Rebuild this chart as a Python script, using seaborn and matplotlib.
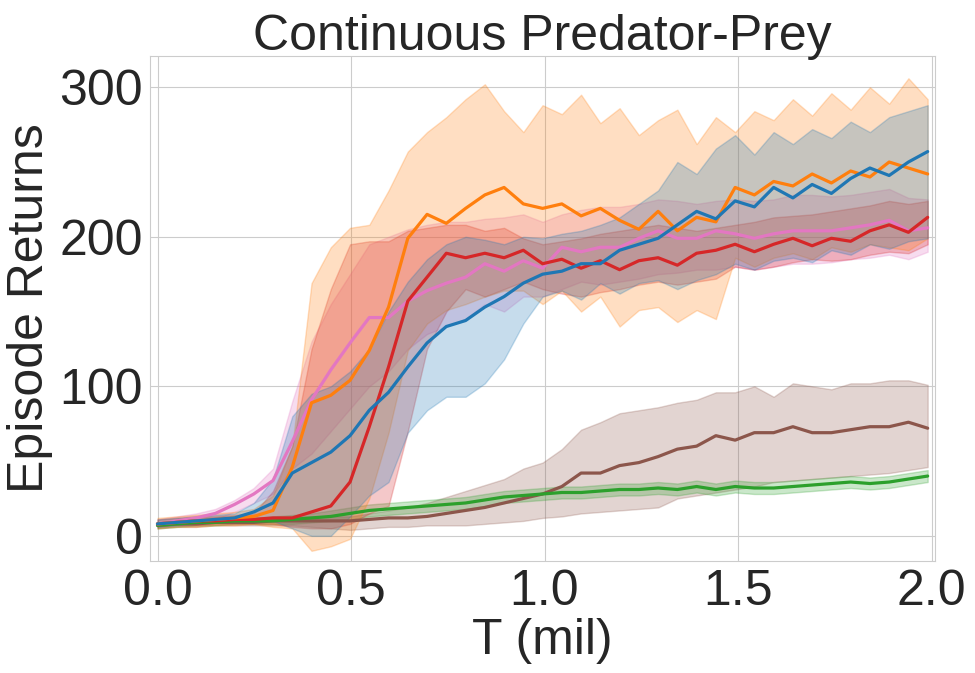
# %% Imports

import matplotlib.pyplot as plt
import numpy as np
import pandas as pd
import seaborn as sns

# %% Data (T in millions of steps)

T_MIL = np.linspace(0, 1.99, 41)

BLUE_MEAN = [8, 9, 10, 11, 12, 16, 22, 42, 49, 56, 67, 84, 96, 113, 129, 140, 144, 153, 160, 169,
             175, 177, 182, 182, 191, 195, 199, 208, 217, 212, 224, 220, 233, 226, 235, 229, 239, 246, 241, 250, 257]
BLUE_LOW = [6, 7, 8, 9, 9, 11, 10, 5, 0, 0, 13, 27, 36, 69, 84, 93, 93, 102, 118, 142,
            160, 164, 158, 169, 162, 169, 171, 165, 171, 175, 182, 178, 184, 186, 183, 191, 188, 195, 192, 197, 199]
BLUE_HIGH = [11, 12, 13, 14, 15, 22, 38, 80, 95, 100, 110, 125, 150, 170, 185, 195, 200, 198, 195, 200,
             199, 202, 204, 208, 213, 222, 231, 250, 242, 259, 268, 255, 270, 262, 272, 266, 277, 270, 280, 284, 288]

ORANGE_MEAN = [8, 9, 10, 11, 12, 13, 17, 46, 89, 94, 104, 124, 153, 199, 215, 209, 219, 228, 233, 222,
               219, 222, 214, 219, 211, 205, 217, 204, 213, 210, 233, 228, 237, 234, 242, 236, 244, 240, 250, 246, 242]
ORANGE_LOW = [5, 6, 6, 7, 7, 8, 6, 5, -10, -7, -2, 25, 69, 124, 142, 151, 155, 160, 164, 164,
              155, 164, 150, 160, 140, 151, 153, 143, 151, 145, 186, 180, 186, 189, 185, 193, 190, 195, 193, 191, 199]
ORANGE_HIGH = [12, 13, 14, 15, 16, 18, 27, 60, 169, 193, 206, 208, 231, 257, 270, 280, 292, 302, 284, 270,
               288, 282, 295, 276, 286, 268, 278, 285, 262, 280, 270, 284, 278, 292, 281, 296, 285, 300, 289, 306, 292]

GREEN_MEAN = [7, 8, 9, 9, 10, 10, 10, 11, 12, 13, 15, 17, 18, 19, 20, 21, 22, 24, 26, 27,
              28, 29, 29, 30, 31, 31, 32, 31, 33, 31, 33, 32, 32, 33, 34, 35, 36, 35, 36, 38, 40]
GREEN_LOW = [5, 6, 7, 7, 8, 8, 8, 8, 9, 10, 11, 13, 14, 15, 16, 17, 18, 20, 22, 23,
             24, 25, 25, 26, 27, 27, 28, 27, 29, 27, 29, 28, 28, 29, 30, 31, 32, 31, 32, 34, 36]
GREEN_HIGH = [9, 10, 11, 11, 12, 12, 13, 14, 15, 17, 19, 21, 22, 23, 24, 25, 26, 28, 30, 31,
              32, 33, 33, 34, 35, 35, 36, 35, 37, 35, 37, 36, 36, 37, 38, 39, 40, 39, 40, 42, 44]

RED_MEAN = [8, 9, 10, 10, 11, 11, 12, 12, 16, 20, 36, 73, 113, 157, 173, 189, 186, 189, 186, 191,
            182, 185, 179, 184, 178, 184, 186, 181, 189, 191, 195, 190, 195, 199, 194, 199, 197, 204, 208, 203, 213]
RED_LOW = [6, 7, 7, 8, 8, 8, 8, 6, 5, 5, 8, 15, 20, 70, 125, 150, 165, 160, 165, 170,
           165, 162, 160, 163, 165, 168, 170, 168, 170, 172, 180, 178, 180, 183, 185, 184, 185, 188, 190, 189, 195]
RED_HIGH = [11, 12, 13, 13, 14, 15, 30, 60, 125, 165, 195, 197, 197, 204, 206, 208, 208, 204, 206, 199,
            195, 197, 199, 202, 204, 206, 208, 206, 204, 206, 208, 210, 213, 214, 215, 217, 219, 221, 224, 222, 224]

BROWN_MEAN = [7, 8, 8, 9, 9, 9, 10, 10, 10, 10, 10, 11, 12, 12, 13, 15, 17, 19, 22, 25,
              28, 33, 42, 42, 47, 49, 53, 58, 60, 67, 64, 69, 69, 73, 69, 69, 71, 73, 73, 76, 72]
BROWN_LOW = [5, 6, 6, 7, 7, 7, 7, 7, 6, 5, 4, 5, 6, 6, 7, 7, 7, 8, 9, 10,
             12, 13, 15, 16, 17, 18, 19, 25, 27, 29, 31, 33, 36, 37, 38, 39, 40, 41, 42, 44, 46]
BROWN_HIGH = [9, 10, 10, 11, 11, 12, 12, 13, 13, 13, 13, 15, 17, 19, 22, 26, 30, 34, 38, 45,
              49, 58, 71, 76, 82, 84, 86, 89, 91, 96, 96, 100, 93, 102, 100, 98, 102, 102, 104, 104, 101]

PINK_MEAN = [8, 10, 12, 15, 21, 28, 37, 63, 91, 111, 129, 146, 146, 157, 164, 169, 173, 182, 177, 184,
             179, 193, 190, 193, 193, 199, 204, 199, 199, 204, 202, 199, 202, 204, 204, 204, 206, 208, 211, 204, 206]
PINK_LOW = [6, 8, 9, 11, 16, 22, 28, 45, 55, 70, 85, 100, 110, 125, 135, 140, 145, 155, 150, 160,
            160, 165, 170, 168, 170, 172, 175, 176, 178, 178, 180, 178, 180, 182, 182, 183, 185, 186, 188, 185, 190]
PINK_HIGH = [11, 13, 15, 18, 24, 32, 45, 90, 130, 155, 175, 195, 200, 205, 208, 210, 210, 212, 213, 215,
             210, 215, 218, 220, 220, 222, 225, 224, 222, 224, 225, 224, 225, 228, 228, 227, 228, 230, 232, 226, 225]

# drawing order: later entries end up on top
SERIES = {
    "brown": (BROWN_MEAN, BROWN_LOW, BROWN_HIGH, "tab:brown"),
    "green": (GREEN_MEAN, GREEN_LOW, GREEN_HIGH, "tab:green"),
    "pink": (PINK_MEAN, PINK_LOW, PINK_HIGH, "tab:pink"),
    "red": (RED_MEAN, RED_LOW, RED_HIGH, "tab:red"),
    "orange": (ORANGE_MEAN, ORANGE_LOW, ORANGE_HIGH, "tab:orange"),
    "blue": (BLUE_MEAN, BLUE_LOW, BLUE_HIGH, "tab:blue"),
}

# %% Plot

sns.set_style("whitegrid")
plt.rcParams["font.family"] = ["Liberation Sans", "DejaVu Sans"]

font_size = 36

fig, ax = plt.subplots(figsize=(9.75, 6.73), dpi=100)
fig.subplots_adjust(left=0.154, right=0.959, top=0.917, bottom=0.166)

for name, (mean, low, high, color) in SERIES.items():
    df = pd.DataFrame({"T": T_MIL, "ret": mean})
    ax.fill_between(T_MIL, low, high, color=color, alpha=0.25, linewidth=1)
    sns.lineplot(data=df, x="T", y="ret", color=color, linewidth=2.3, ax=ax)

ax.set_xlim(-0.019, 2.009)
ax.set_ylim(-17, 321)
ax.set_xticks([0.0, 0.5, 1.0, 1.5, 2.0])
ax.set_yticks([0, 100, 200, 300])

ax.set_xlabel("T (mil)", fontsize=font_size, labelpad=2)
ax.set_ylabel("Episode Returns", fontsize=font_size)
ax.set_title("Continuous Predator-Prey", fontsize=font_size, pad=4)
ax.tick_params(labelsize=font_size, pad=2)

plt.savefig("out.png", dpi=100)
